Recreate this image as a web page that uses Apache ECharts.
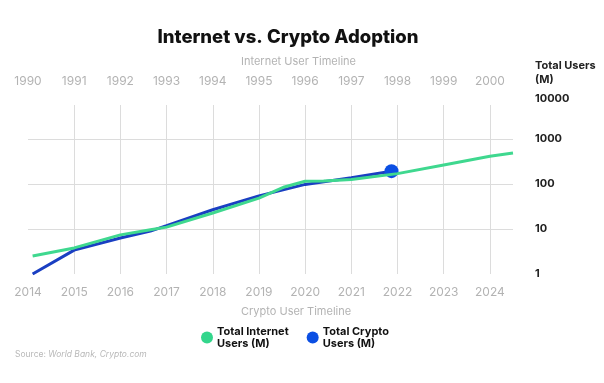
<!DOCTYPE html>
<html>
<head>
<meta charset="utf-8">
<script src="https://cdn.jsdelivr.net/npm/echarts@6/dist/echarts.min.js"></script>
<style>
html,body{margin:0;padding:0;background:#fff;}
#c{width:604px;height:383px;}
</style>
</head>
<body>
<div id="c"></div>
<script>
// ---- data ----
const internetYears = [2014.1, 2015, 2016, 2016.65, 2017, 2018, 2019, 2019.55, 2020, 2020.4, 2021, 2022, 2023, 2024, 2024.5];
const internetUsers = [2.5, 3.8, 7.4, 9.6, 11, 22.7, 48.5, 86, 115, 117, 126, 170, 265, 412, 487];
const cryptoYears = [2014.1, 2015, 2016, 2016.65, 2017, 2018, 2019, 2020, 2021, 2021.87];
const cryptoUsers = [1, 3.4, 6.3, 9.0, 11.9, 26.8, 54.5, 98, 138, 193];
const bottomTicks = [2014, 2015, 2016, 2017, 2018, 2019, 2020, 2021, 2022, 2023, 2024];
const topTicks = [1990, 1991, 1992, 1993, 1994, 1995, 1996, 1997, 1998, 1999, 2000];
const yTicks = [1, 10, 100, 1000, 10000];
const seriesNames = ['Total Internet\nUsers (M)', 'Total Crypto\nUsers (M)'];

const chart = echarts.init(document.getElementById('c'));
const gray = '#b3b3b3';
const gridL = 28, gridR = 91;

const internetData = internetYears.map((x, i) => [x, internetUsers[i]]);
const cryptoData = cryptoYears.map((x, i) => {
  if (i === cryptoYears.length - 1) {
    return { value: [x, cryptoUsers[i]], symbol: 'circle', symbolSize: 14, itemStyle: { color: '#0b4fe3' } };
  }
  return [x, cryptoUsers[i]];
});

chart.setOption({
  animation: false,
  backgroundColor: '#fff',
  title: {
    text: 'Internet vs. Crypto Adoption',
    left: 283, top: 23, textAlign: 'center',
    textStyle: { fontFamily: 'Inter', fontWeight: 800, fontSize: 18.5, color: '#111' }
  },
  graphic: [
    { type: 'text', left: 300 - 59, top: 56, style: { text: 'Internet User Timeline', fontFamily: 'Inter', fontSize: 11, fill: gray } },
    { type: 'text', left: 300 - 59, top: 306, style: { text: 'Crypto User Timeline', fontFamily: 'Inter', fontSize: 11, fill: gray } },
    { type: 'text', left: 535, top: 59, style: { text: 'Total Users\n(M)', fontFamily: 'Inter', fontWeight: 700, fontSize: 11, lineHeight: 14, fill: '#222' } },
    { type: 'text', left: 15, top: 350, style: {
        text: '{a|Source: }{b|World Bank, Crypto.com}',
        rich: {
          a: { fontFamily: 'Inter', fontSize: 8.5, fill: '#b8b8b8', color: '#b8b8b8' },
          b: { fontFamily: 'Inter', fontSize: 8.5, fontStyle: 'italic', fill: '#b8b8b8', color: '#b8b8b8' }
        } } }
  ],
  legend: {
    data: seriesNames,
    left: 196, top: 320,
    icon: 'circle', itemWidth: 12, itemHeight: 12, itemGap: 18,
    textStyle: { fontFamily: 'Inter', fontWeight: 700, fontSize: 11, lineHeight: 12.5, color: '#111', padding: [0, 0, 0, -1] }
  },
  grid: [
    { left: gridL, right: gridR, top: 94, bottom: 383 - 274 },
    { left: gridL, right: gridR, top: 105, bottom: 383 - 274 }
  ],
  xAxis: [
    {
      gridIndex: 0, type: 'value', min: 2014, max: 2024.5, interval: 1,
      position: 'bottom',
      axisLine: { show: false }, axisTick: { show: false },
      splitLine: { show: false },
      axisLabel: {
        color: gray, fontFamily: 'Inter', fontSize: 12, margin: 12,
        showMaxLabel: false,
        formatter: v => bottomTicks.includes(v) ? String(v) : ''
      }
    },
    {
      gridIndex: 1, type: 'value', min: 2014, max: 2024.5, interval: 1,
      position: 'top',
      axisLine: { show: false }, axisTick: { show: false },
      splitLine: { show: true, showMinLine: false, showMaxLine: false, lineStyle: { color: '#dcdcdc', width: 1 } },
      axisLabel: {
        color: gray, fontFamily: 'Inter', fontSize: 12, margin: 18,
        showMaxLabel: false,
        formatter: v => {
          const i = bottomTicks.indexOf(v);
          return i >= 0 ? String(topTicks[i]) : '';
        }
      }
    }
  ],
  yAxis: [
    {
      gridIndex: 0, type: 'log', logBase: 10, min: 1, max: 10000,
      position: 'right',
      axisLine: { show: false }, axisTick: { show: false },
      splitLine: { show: true, showMinLine: false, showMaxLine: false, lineStyle: { color: '#dcdcdc', width: 1 } },
      axisLabel: {
        align: 'left', margin: 22,
        color: '#222', fontFamily: 'Inter', fontWeight: 700, fontSize: 11,
        formatter: v => {
          if (!yTicks.includes(v)) return '';
          return v === 10000 ? '{t|' + v + '}' : String(v);
        },
        rich: { t: { padding: [9, 0, 0, 0], fontFamily: 'Inter', fontWeight: 700, fontSize: 11, color: '#222' } }
      }
    },
    {
      gridIndex: 1, type: 'value', min: 0, max: 1, show: false
    }
  ],
  series: [
    {
      name: seriesNames[0], type: 'line', xAxisIndex: 0, yAxisIndex: 0,
      data: internetData, symbol: 'none', z: 3,
      itemStyle: { color: '#33d68c' },
      lineStyle: { color: '#3fd88f', width: 3 }
    },
    {
      name: seriesNames[1], type: 'line', xAxisIndex: 0, yAxisIndex: 0,
      data: cryptoData, symbol: 'none', showSymbol: true, z: 2,
      itemStyle: { color: '#0b4fe3' },
      lineStyle: { color: '#1a3fc2', width: 3 }
    }
  ]
});
</script>
</body>
</html>
